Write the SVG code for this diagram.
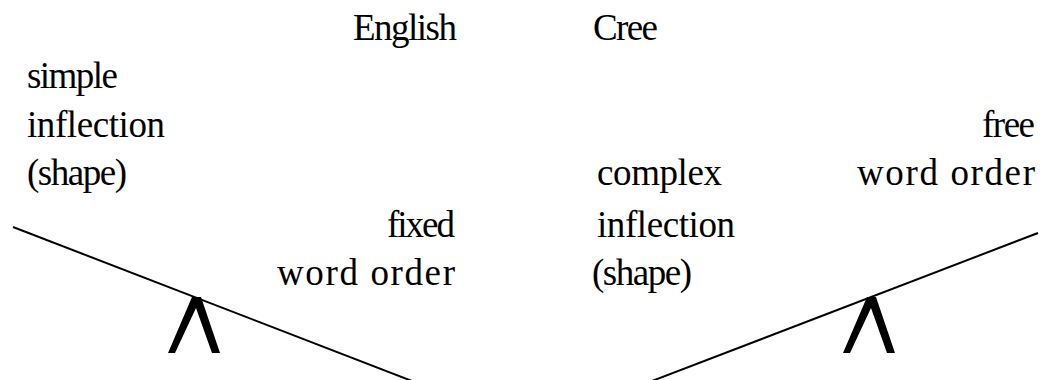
<svg xmlns="http://www.w3.org/2000/svg" width="1052" height="380" viewBox="0 0 1052 380">
<style>
text{font-family:"Liberation Serif","DejaVu Serif",serif;font-size:37px;fill:#000}
.beam{stroke:#000;stroke-width:2;fill:none;stroke-linecap:butt}
.fulcrum{fill:#000}
</style>
<defs>
<polygon id="fulc" class="fulcrum" points="168,353 192,297 201,297 220,353 212,353 196,308 175,353"/>
</defs>
<rect width="1052" height="380" fill="#fff"/>
<g id="english-title"><text x="353" y="40" textLength="104">English</text></g>
<g id="cree-title"><text x="593" y="40" textLength="65">Cree</text></g>
<g id="english-inflection">
<text x="27" y="88" textLength="91">simple</text>
<text x="27" y="137" textLength="138">inflection</text>
<text x="27" y="185" textLength="100">(shape)</text>
</g>
<g id="english-order">
<text x="387" y="237" textLength="68">fixed</text>
<text x="277" y="285" textLength="178">word order</text>
</g>
<g id="cree-inflection">
<text x="597" y="185" textLength="125">complex</text>
<text x="597" y="237" textLength="138">inflection</text>
<text x="592" y="285" textLength="100">(shape)</text>
</g>
<g id="cree-order">
<text x="982" y="137" textLength="53">free</text>
<text x="857" y="185" textLength="178">word order</text>
</g>
<g id="connectors">
<line class="beam" x1="13" y1="227" x2="412" y2="381"/>
<line class="beam" x1="652" y1="381" x2="1038" y2="233"/>
</g>
<g id="english-fulcrum"><use href="#fulc"/></g>
<g id="cree-fulcrum"><use href="#fulc" transform="translate(675,0)"/></g>
</svg>
